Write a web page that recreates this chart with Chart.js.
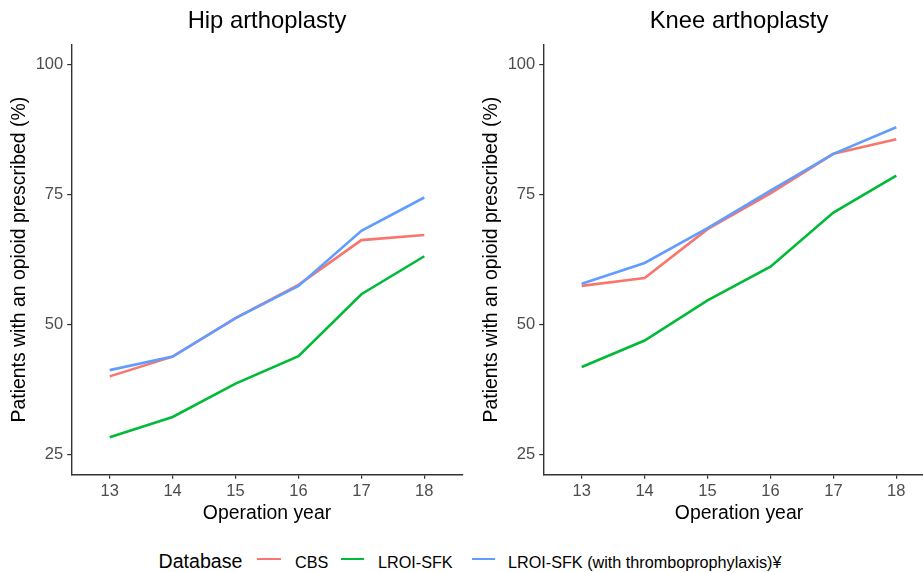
<!DOCTYPE html>
<html><head><meta charset="utf-8">
<script src="https://cdn.jsdelivr.net/npm/chart.js@4"></script>
<style>
html,body{margin:0;padding:0;background:#fff;overflow:hidden;width:923px;height:572px;position:relative}
canvas{position:absolute;top:0}
#cl{left:0}
#cr{left:472px}
.lg{position:absolute;font-family:"Liberation Sans",Arial,sans-serif;white-space:nowrap;line-height:1;color:#000}
.key{position:absolute;height:2.6px;width:23.4px}
</style></head><body>
<canvas id="cl" width="470" height="530"></canvas>
<canvas id="cr" width="470" height="530"></canvas>
<div id="legend"></div>
<script>
const years = [13, 14, 15, 16, 17, 18];
const yTicks = [25, 50, 75, 100];
const seriesNames = ["CBS", "LROI-SFK", "LROI-SFK (with thromboprophylaxis)\u00A5"];
const seriesColors = ["#F8766D", "#00BA38", "#619CFF"];
const legendTitle = "Database";
const panelTitles = ["Hip arthoplasty", "Knee arthoplasty"];
const xTitle = "Operation year";
const yTitle = "Patients with an opioid prescribed (%)";

const hipCBS = [40.0, 43.8, 51.2, 57.6, 66.2, 67.2];
const hipLROI = [28.3, 32.2, 38.6, 43.9, 55.8, 63.1];
const hipLROIthrombo = [41.2, 43.8, 51.2, 57.4, 68.0, 74.4];
const kneeCBS = [57.4, 58.9, 68.3, 75.2, 82.8, 85.6];
const kneeLROI = [41.8, 46.9, 54.6, 61.1, 71.5, 78.6];
const kneeLROIthrombo = [57.8, 61.8, 68.5, 75.7, 82.8, 87.9];

const FONT = '"Liberation Sans", Arial, sans-serif';

function makeChart(id, title, seriesList) {
  const datasets = seriesList.map((vals, i) => ({
    label: seriesNames[i],
    data: years.map((x, j) => ({x: x, y: vals[j]})),
    borderColor: seriesColors[i],
    backgroundColor: seriesColors[i],
    borderWidth: 2.6,
    pointRadius: 0,
    tension: 0,
    fill: false,
    order: 3 - i
  }));
  return new Chart(document.getElementById(id), {
    type: 'line',
    data: {datasets},
    options: {
      responsive: false,
      animation: false,
      devicePixelRatio: 1,
      layout: {padding: {left: 0, right: 7.7, top: 0, bottom: 0}},
      plugins: {
        legend: {display: false},
        tooltip: {enabled: false},
        title: {
          display: true, text: title, fullSize: false,
          color: '#000',
          font: {family: FONT, size: 23.8, weight: 'normal', lineHeight: 1.2},
          padding: {top: 7.4, bottom: 9.0}
        }
      },
      scales: {
        x: {
          type: 'linear', min: 12.396, max: 18.604,
          afterBuildTicks: s => { s.ticks = years.map(v => ({value: v})); },
          afterFit: s => { s.height = 55.7; },
          ticks: {color: '#4D4D4D', font: {family: FONT, size: 16.5, lineHeight: 1.2}, padding: 3.0, maxRotation: 0, callback: v => String(v)},
          grid: {drawOnChartArea: false, drawTicks: true, tickLength: 4.5, color: '#333', lineWidth: 1.2},
          border: {display: true, color: '#333', width: 1.4},
          title: {display: true, text: xTitle, color: '#000', font: {family: FONT, size: 19.4, lineHeight: 1.2}, padding: {top: 0, bottom: 5}}
        },
        y: {
          type: 'linear', min: 21.17, max: 103.73,
          afterBuildTicks: s => { s.ticks = yTicks.map(v => ({value: v})); },
          afterFit: s => { s.width = 71.7; },
          ticks: {color: '#4D4D4D', font: {family: FONT, size: 16.5, lineHeight: 1.2}, padding: 4.0, callback: v => String(v)},
          grid: {drawOnChartArea: false, drawTicks: true, tickLength: 4.5, color: '#333', lineWidth: 1.2},
          border: {display: true, color: '#333', width: 1.4},
          title: {display: true, text: yTitle, color: '#000', font: {family: FONT, size: 19.4, lineHeight: 1.2}, padding: {top: 8, bottom: 0}}
        }
      }
    }
  });
}

makeChart('cl', panelTitles[0], [hipCBS, hipLROI, hipLROIthrombo]);
makeChart('cr', panelTitles[1], [kneeCBS, kneeLROI, kneeLROIthrombo]);

// HTML legend
const lg = document.getElementById('legend');
function addText(txt, left, top, size) {
  const d = document.createElement('div');
  d.className = 'lg'; d.textContent = txt;
  d.style.left = left + 'px'; d.style.top = top + 'px'; d.style.fontSize = size + 'px';
  lg.appendChild(d);
}
function addKey(color, left) {
  const d = document.createElement('div');
  d.className = 'key'; d.style.background = color;
  d.style.left = left + 'px'; d.style.top = '557.7px';
  lg.appendChild(d);
}
addText(legendTitle, 158.5, 551.9, 19.6);
const keyLefts = [257.3, 341, 471.7];
const textLefts = [295, 378, 508];
seriesNames.forEach((n, i) => {
  addKey(seriesColors[i], keyLefts[i]);
  addText(n, textLefts[i], 553.6, 16.2);
});
</script>
</body></html>
